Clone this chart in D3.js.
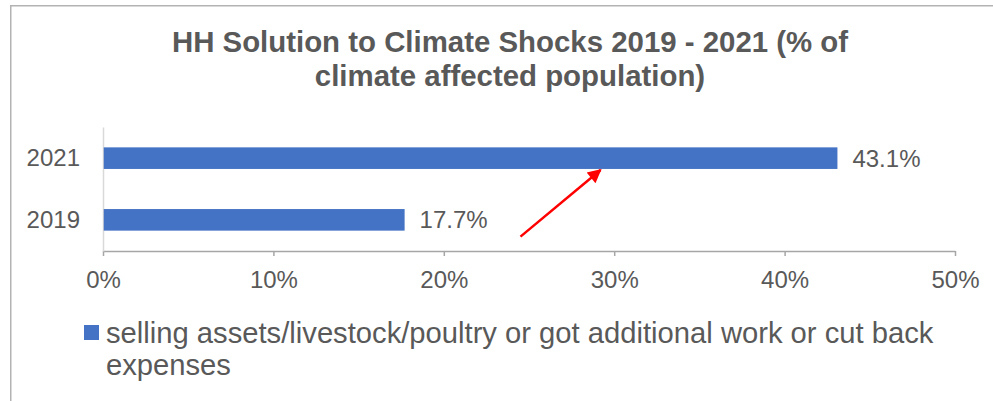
<!DOCTYPE html>
<html>
<head>
<meta charset="utf-8">
<script src="https://cdn.jsdelivr.net/npm/d3@7"></script>
<style>
  body { margin: 0; background: #fff; }
  text { font-family: Arial, "Liberation Sans", sans-serif; fill: #595959; }
</style>
</head>
<body>
<div id="chart"></div>
<script>
// Chart data
const years = ["2021", "2019"];
const shares = [0.431, 0.177];
const xTicks = [0, 0.1, 0.2, 0.3, 0.4, 0.5];
const titleLines = ["HH Solution to Climate Shocks 2019 - 2021 (% of", "climate affected population)"];
const legendLines = ["selling assets/livestock/poultry or got additional work or cut back", "expenses"];

const data = years.map((y, i) => ({year: y, value: shares[i]}));

const W = 993, H = 401;
const margin = {top: 127, right: 38, bottom: 150, left: 103};
const width = W - margin.left - margin.right,
      height = H - margin.top - margin.bottom;

const svg = d3.select("#chart")
  .append("svg")
  .attr("width", W)
  .attr("height", H);

// chart frame (only top and left edges visible)
svg.append("rect")
  .attr("x", 10.75).attr("y", 5.75)
  .attr("width", 1100).attr("height", 500)
  .attr("fill", "none")
  .attr("stroke", "#b3b3b3")
  .attr("stroke-width", 1.5);

// Title
svg.append("text")
  .attr("text-anchor", "middle")
  .style("font-size", "29.4px")
  .style("font-weight", "bold")
  .selectAll("tspan")
  .data(titleLines)
  .enter()
  .append("tspan")
  .attr("x", 510)
  .attr("y", (d, i) => 52 + i * 34)
  .text(d => d);

const g = svg.append("g")
  .attr("transform", `translate(${margin.left},${margin.top})`);

const x = d3.scaleLinear().domain([0, 0.5]).range([0, width]);
const y = d3.scaleBand()
  .domain(years)
  .range([0, height])
  .paddingInner(0.65)
  .paddingOuter(0.33);

// X axis
const xAxis = g.append("g")
  .attr("transform", `translate(0,${height})`)
  .call(d3.axisBottom(x)
    .tickValues(xTicks)
    .tickFormat(d3.format(".0%"))
    .tickSize(5)
    .tickPadding(15)
    .tickSizeOuter(0));
xAxis.select(".domain").attr("stroke", "#a6a6a6").attr("stroke-width", 1.5);
xAxis.selectAll(".tick line").attr("stroke", "#a6a6a6").attr("stroke-width", 1.5);
xAxis.selectAll("text")
  .style("font-size", "24px")
  .attr("fill", "#595959");

// Y axis
const yAxis = g.append("g")
  .call(d3.axisLeft(y).tickSize(0).tickPadding(23));
yAxis.select(".domain").attr("stroke", "#d9d9d9").attr("stroke-width", 1.5);
yAxis.selectAll("text")
  .style("font-size", "24px")
  .attr("fill", "#595959");

// Bars
g.selectAll(".bar")
  .data(data)
  .enter()
  .append("rect")
  .attr("class", "bar")
  .attr("x", 0.75)
  .attr("y", d => y(d.year))
  .attr("width", d => x(d.value) - 0.75)
  .attr("height", y.bandwidth())
  .attr("fill", "#4472c4");

// Value labels
g.selectAll(".label")
  .data(data)
  .enter()
  .append("text")
  .attr("class", "label")
  .attr("x", d => x(d.value) + 15)
  .attr("y", d => y(d.year) + y.bandwidth() / 2)
  .attr("dy", "0.36em")
  .style("font-size", "24px")
  .text(d => d3.format(".1%")(d.value));

// Red arrow annotation
svg.append("defs").append("marker")
  .attr("id", "arrowhead")
  .attr("viewBox", "0 0 10 10")
  .attr("refX", 9).attr("refY", 5)
  .attr("markerWidth", 6.5).attr("markerHeight", 5.5)
  .attr("orient", "auto")
  .append("path")
  .attr("d", "M0,0 L10,5 L0,10 Z")
  .attr("fill", "#ff0000");

g.append("line")
  .attr("x1", x(0.245))
  .attr("y1", y("2019") + y.bandwidth() + 6)
  .attr("x2", x(0.292))
  .attr("y2", y("2021") + y.bandwidth() + 1)
  .attr("stroke", "#ff0000")
  .attr("stroke-width", 2.5)
  .attr("marker-end", "url(#arrowhead)");

// Legend
const legend = svg.append("g");
legend.append("rect")
  .attr("x", 84).attr("y", 325)
  .attr("width", 15).attr("height", 15)
  .attr("fill", "#4472c4");
legend.append("text")
  .style("font-size", "29.2px")
  .selectAll("tspan")
  .data(legendLines)
  .enter()
  .append("tspan")
  .attr("x", 106)
  .attr("y", (d, i) => 343 + i * 32)
  .text(d => d);
</script>
</body>
</html>
